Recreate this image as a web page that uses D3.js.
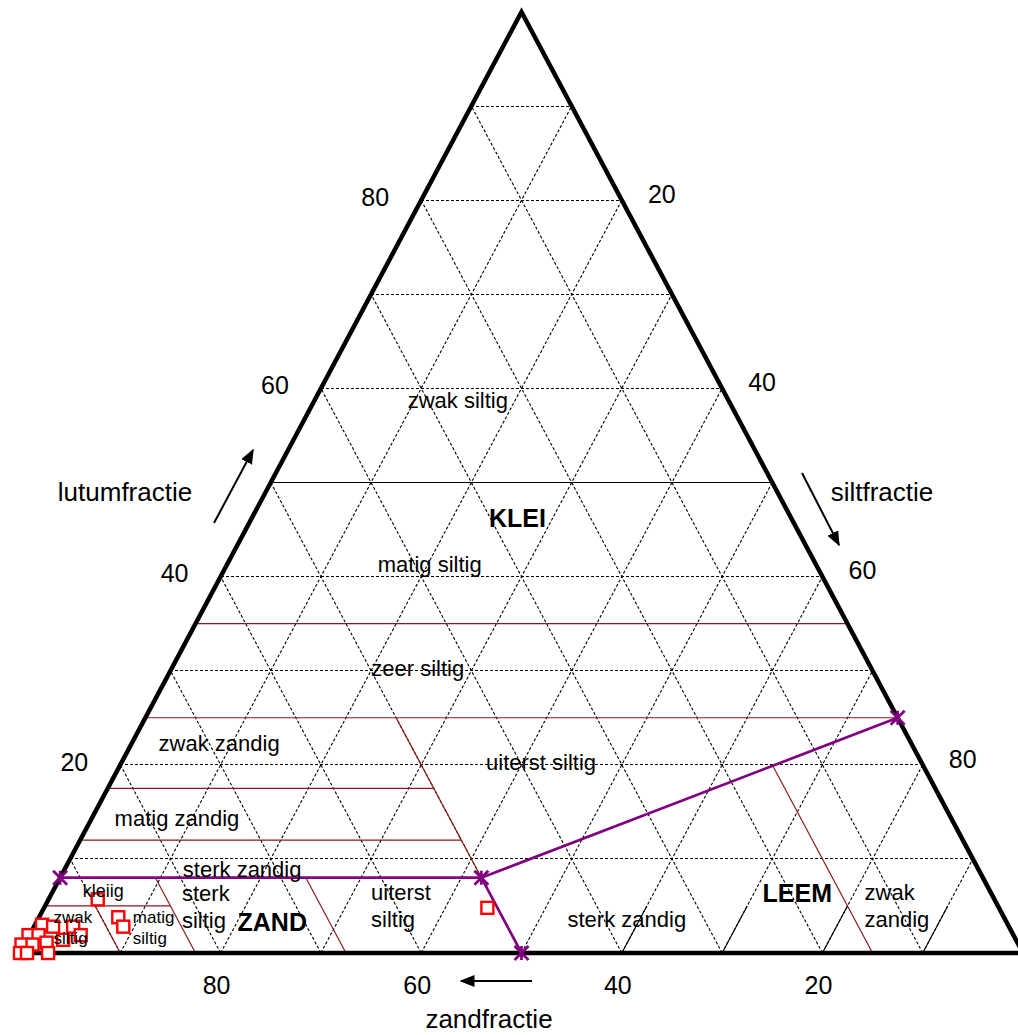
<!DOCTYPE html>
<html>
<head>
<meta charset="utf-8">
<script src="https://cdn.jsdelivr.net/npm/d3@7"></script>
<style>
  html, body { margin: 0; padding: 0; background: #fff; }
  svg { display: block; font-family: "Liberation Sans", Arial, sans-serif; }
</style>
</head>
<body>
<div id="chart"></div>
<script>
// ternary values: [zand, lutum] in %, silt = 100 - zand - lutum
const sampleSand = [89.4, 88.3, 88.3, 96.3, 95.3, 93.3, 98.2, 97.2, 93.0, 99.4, 98.3, 96.8, 95.0, 100, 99.3, 97.2, 51.0];
const sampleLutum = [5.7, 3.8, 2.8, 3.0, 2.8, 2.8, 1.9, 1.9, 1.9, 0.9, 0.9, 1.1, 1.4, 0, 0, 0, 4.8];

const gridSteps = [10, 20, 30, 40, 50, 60, 70, 80, 90];
const lutumTicks = [20, 40, 60, 80];
const siltTicks = [20, 40, 60, 80];
const sandTicks = [80, 60, 40, 20];

// class boundaries (dark red)
const redLines = [
  [[65, 35], [0, 35]],
  [[75, 25], [0, 25]],
  [[82.5, 17.5], [50, 17.5]],
  [[88, 12], [50, 12]],
  [[95, 5], [82.5, 5]],
  [[90, 0], [90, 5]],
  [[82.5, 0], [82.5, 8]],
  [[67.5, 0], [67.5, 8]],
  [[50, 8], [50, 25]],
  [[15, 0], [15, 19.9]],
];
const blackLines = [
  [[50, 50], [0, 50]],
  [[40, 0], [35, 5]],
  [[30, 0], [25, 5]],
  [[20, 0], [15, 5]],
  [[10, 0], [5, 5]],
];
// zand / klei / leem main boundary (purple)
const mainBoundary = [[92, 8], [50, 8], [0, 25]];
const mainStub = [[50, 8], [50, 0]];
const mainPoints = [[92, 8], [50, 8], [50, 0], [0, 25]];

// region labels: text, zand, lutum
const bigLabels = [
  ['zwak siltig', 27, 58.7],
  ['matig siltig', 38.5, 41.3],
  ['zeer siltig', 45.2, 30.3],
  ['zwak zandig', 69.0, 22.3],
  ['uiterst siltig', 37.9, 20.3],
  ['matig zandig', 77.2, 14.3],
  ['sterk zandig', 73.4, 8.9],
  ['sterk zandig', 37.7, 3.6],
];
const boldLabels = [
  ['KLEI', 27.3, 46.2],
  ['ZAND', 73.2, 3.3],
  ['LEEM', 19.3, 6.4],
];
const blockLabels = [
  [['sterk', 'siltig'], 81.4, 4.9, 22],
  [['uiterst', 'siltig'], 62.5, 5.0, 22],
  [['zwak', 'zandig'], 13.3, 5.0, 22],
  [['zwak', 'siltig'], 95.3, 2.7, 17],
  [['matig', 'siltig'], 87.4, 2.7, 17],
];
const smallLabels = [['kleiig', 88.4, 6.6]];

const width = 1018;
const height = 1035;

const xS = d3.scaleLinear().domain([100, 0]).range([20, 1023]);
const yL = d3.scaleLinear().domain([0, 100]).range([953, 12]);
const pt = (sand, lutum) => [xS(sand + lutum / 2), yL(lutum)];
const line = d3.line().x(d => pt(d[0], d[1])[0]).y(d => pt(d[0], d[1])[1]);

const svg = d3
  .select('#chart')
  .append('svg')
  .attr('width', width)
  .attr('height', height);

svg.append('defs')
  .append('marker')
  .attr('id', 'arrow')
  .attr('viewBox', '0 0 10 10')
  .attr('refX', 9)
  .attr('refY', 5)
  .attr('markerWidth', 15)
  .attr('markerHeight', 12)
  .attr('markerUnits', 'userSpaceOnUse')
  .attr('orient', 'auto')
  .attr('preserveAspectRatio', 'none')
  .append('path')
  .attr('d', 'M0,0 L10,5 L0,10 Z')
  .attr('fill', '#000');

// dashed grid
const grid = svg.append('g')
  .attr('stroke', '#000')
  .attr('stroke-width', 1.1)
  .attr('stroke-dasharray', '3,2')
  .attr('fill', 'none');

gridSteps.forEach(v => {
  grid.append('path').attr('d', line([[100 - v, v], [0, v]])).attr('shape-rendering', 'crispEdges'); // lutum
  grid.append('path').attr('d', line([[v, 0], [v, 100 - v]]));        // zand
  grid.append('path').attr('d', line([[100 - v, 0], [0, 100 - v]]));  // silt
});

svg.append('g')
  .selectAll('path')
  .data(redLines)
  .enter()
  .append('path')
  .attr('d', d => line(d))
  .attr('stroke', '#8b1a1a')
  .attr('stroke-width', 1.2)
  .attr('fill', 'none');

svg.append('g')
  .selectAll('path')
  .data(blackLines)
  .enter()
  .append('path')
  .attr('d', d => line(d))
  .attr('stroke', '#000')
  .attr('stroke-width', 1.1)
  .attr('fill', 'none');

// triangle outline
svg.append('path')
  .attr('d', line([[100, 0], [0, 0], [0, 100]]) + 'Z')
  .attr('fill', 'none')
  .attr('stroke', '#000')
  .attr('stroke-width', 4.5);

// purple boundary with star markers
const purple = svg.append('g')
  .attr('stroke', '#800080')
  .attr('stroke-width', 2.7)
  .attr('fill', 'none');
purple.append('path').attr('d', line(mainBoundary));
purple.append('path').attr('d', line(mainStub));
purple.selectAll('path.star')
  .data(mainPoints)
  .enter()
  .append('path')
  .attr('class', 'star')
  .attr('d', d => {
    const [x, y] = pt(d[0], d[1]);
    const r = 7;
    return `M${x - r},${y - r}L${x + r},${y + r}M${x - r},${y + r}L${x + r},${y - r}M${x},${y - r}L${x},${y + r}`;
  });

// samples
svg.append('g')
  .selectAll('rect')
  .data(sampleSand.map((s, i) => [s, sampleLutum[i]]))
  .enter()
  .append('rect')
  .attr('x', d => pt(d[0], d[1])[0] - 6)
  .attr('y', d => pt(d[0], d[1])[1] - 6)
  .attr('width', 12)
  .attr('height', 12)
  .attr('fill', '#fff')
  .attr('stroke', '#ff0000')
  .attr('stroke-width', 2.4);

// region labels
const labels = svg.append('g').attr('fill', '#000');
bigLabels.forEach(([t, s, l]) => {
  const [x, y] = pt(s, l);
  labels.append('text').attr('x', x).attr('y', y).attr('dy', '0.35em')
    .attr('text-anchor', 'middle').attr('font-size', 22).text(t);
});
boldLabels.forEach(([t, s, l]) => {
  const [x, y] = pt(s, l);
  labels.append('text').attr('x', x).attr('y', y).attr('dy', '0.35em')
    .attr('text-anchor', 'middle').attr('font-size', 25).attr('font-weight', 'bold').text(t);
});
smallLabels.forEach(([t, s, l]) => {
  const [x, y] = pt(s, l);
  labels.append('text').attr('x', x).attr('y', y).attr('dy', '0.35em')
    .attr('text-anchor', 'middle').attr('font-size', 18).text(t);
});
blockLabels.forEach(([lines, s, l, size]) => {
  const [x, y] = pt(s, l);
  const gap = size * 1.22;
  lines.forEach((t, i) => {
    labels.append('text').attr('x', x).attr('y', y + (i - (lines.length - 1) / 2) * gap)
      .attr('dy', '0.35em').attr('font-size', size).text(t);
  });
});

// axis tick labels
const ticks = svg.append('g').attr('font-size', 25).attr('text-anchor', 'middle');
lutumTicks.forEach(v => {
  const [x, y] = pt(100 - v, v);
  ticks.append('text').attr('x', x - 46).attr('y', y - 3).attr('dy', '0.35em').text(v);
});
siltTicks.forEach(v => {
  const [x, y] = pt(0, 100 - v);
  ticks.append('text').attr('x', x + 40).attr('y', y - 6).attr('dy', '0.35em').text(v);
});
sandTicks.forEach(v => {
  const [x, y] = pt(v, 0);
  ticks.append('text').attr('x', x - 4).attr('y', y + 32).attr('dy', '0.35em').text(v);
});

// axis titles and arrows
const titles = svg.append('g').attr('font-size', 26).attr('text-anchor', 'middle');
titles.append('text').attr('x', 125).attr('y', 492).attr('dy', '0.35em').text('lutumfractie');
titles.append('text').attr('x', 882).attr('y', 492).attr('dy', '0.35em').text('siltfractie');
titles.append('text').attr('x', 489).attr('y', 1019).attr('dy', '0.35em').text('zandfractie');

const arrows = [
  [[214, 523], [253, 450]],
  [[802, 473], [839, 545]],
  [[532, 981], [461, 981]],
];
svg.append('g')
  .selectAll('line')
  .data(arrows)
  .enter()
  .append('line')
  .attr('x1', d => d[0][0]).attr('y1', d => d[0][1])
  .attr('x2', d => d[1][0]).attr('y2', d => d[1][1])
  .attr('stroke', '#000')
  .attr('stroke-width', 2)
  .attr('marker-end', 'url(#arrow)');
</script>
</body>
</html>
